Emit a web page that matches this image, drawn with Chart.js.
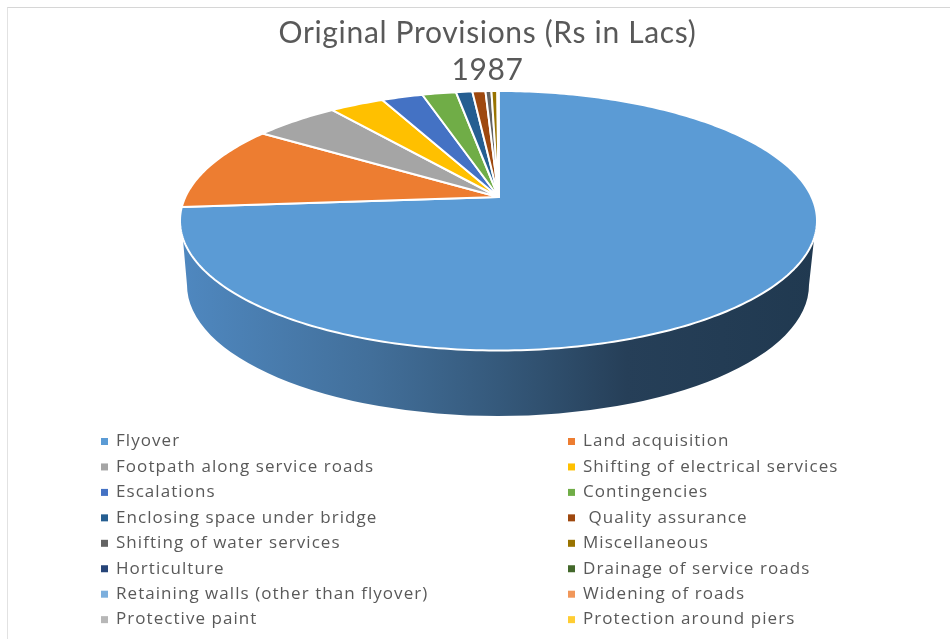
<!DOCTYPE html>
<html>
<head>
<meta charset="utf-8">
<title>Original Provisions</title>
<script src="https://cdn.jsdelivr.net/npm/chart.js@4"></script>
<style>
    html, body { margin: 0; padding: 0; background: #fff; }
    #wrap { position: relative; width: 950px; height: 639px; overflow: hidden; }
    #frame { position: absolute; left: 7px; top: 7px; width: 950px; height: 640px;
             border-left: 1px solid #e2e2e2; border-top: 1px solid #d6d6d6; }
    canvas { position: absolute; left: 0; top: 0; }
</style>
</head>
<body>
<div id="wrap">
    <div id="frame"></div>
    <canvas id="myPieChart" width="950" height="639"></canvas>
</div>
<script>
var titleLines = ['Original Provisions (Rs in Lacs)', '1987'];

var categories = [
    'Flyover', 'Land acquisition',
    'Footpath along service roads', 'Shifting of electrical services',
    'Escalations', 'Contingencies',
    'Enclosing space under bridge', ' Quality assurance',
    'Shifting of water services', 'Miscellaneous',
    'Horticulture', 'Drainage of service roads',
    'Retaining walls (other than flyover)', 'Widening of roads',
    'Protective paint', 'Protection around piers'
];

var provisions = [737.5, 106.7, 52, 32.8, 25, 20.5, 9.9, 7.9, 3.6, 3.6, 0.2, 0.15, 0.1, 0.1, 0.05, 0.05];

var sliceColors = [
    '#5b9bd5', '#ed7d31', '#a5a5a5', '#ffc000', '#4472c4', '#70ad47', '#255e91', '#9e480e',
    '#636363', '#997300', '#264478', '#43682b', '#7cafdd', '#f1975a', '#b7b7b7', '#ffcd33'
];

// tilted disc: perspective applied to the arc angles the controller works out
var disc = { shiftX: 11, stretchX: 2.954, stretchY: 1.183, tilt: 0.183 };
// lower rim of the disc, seen from above
var base = { cx: 498, cy: 285, rx: 311, ry: 131 };

function project(arc, angle) {
    var u = Math.cos(angle), v = Math.sin(angle);
    var w = 1 - disc.tilt * v;
    return {
        x: arc.x + disc.shiftX + arc.outerRadius * disc.stretchX * u / w,
        y: arc.y + arc.outerRadius * disc.stretchY * v / w
    };
}

function traceRim(ctx, arc, from, to) {
    var steps = Math.max(2, Math.ceil(Math.abs(to - from) * 60));
    for (var i = 0; i <= steps; i++) {
        var p = project(arc, from + (to - from) * i / steps);
        ctx.lineTo(p.x, p.y);
    }
}

function drawWall(ctx, arc) {
    var shade = ctx.createLinearGradient(180, 0, 818, 0);
    shade.addColorStop(0, '#4f88c0');
    shade.addColorStop(0.3, '#426f9a');
    shade.addColorStop(0.5, '#35597b');
    shade.addColorStop(0.7, '#263f58');
    shade.addColorStop(1, '#203950');

    ctx.beginPath();
    traceRim(ctx, arc, 18 * Math.PI / 180, 162 * Math.PI / 180);
    ctx.ellipse(base.cx, base.cy, base.rx, base.ry, 0, Math.PI, 0, true);
    ctx.closePath();
    ctx.fillStyle = shade;
    ctx.fill();
}

var tiltedPie = {
    id: 'tiltedPie',
    beforeDraw: function(chart) {
        // the title box draws right after this hook
        chart.ctx.letterSpacing = '0.66px';
    },
    beforeDatasetDraw: function(chart, args) {
        var ctx = chart.ctx;
        var arcs = args.meta.data;
        ctx.save();
        ctx.letterSpacing = '0px';
        drawWall(ctx, arcs[0]);
        ctx.lineJoin = 'round';
        arcs.forEach(function(arc) {
            ctx.beginPath();
            ctx.moveTo(arc.x + disc.shiftX, arc.y);
            traceRim(ctx, arc, arc.startAngle, arc.endAngle);
            ctx.closePath();
            ctx.fillStyle = arc.options.backgroundColor;
            ctx.fill();
            ctx.lineWidth = arc.options.borderWidth;
            ctx.strokeStyle = arc.options.borderColor;
            ctx.stroke();
        });
        ctx.restore();
        return false;
    }
};

// two column key under the disc
var twoColumnKey = {
    id: 'twoColumnKey',
    afterDraw: function(chart) {
        var ctx = chart.ctx;
        var columns = [116, 583];
        ctx.save();
        ctx.font = '17px "Open Sans"';
        ctx.letterSpacing = '1.05px';
        ctx.textBaseline = 'middle';
        categories.forEach(function(label, i) {
            var col = columns[i % 2];
            var y = 441.5 + Math.floor(i / 2) * 25.45;
            ctx.fillStyle = sliceColors[i];
            ctx.fillRect(col - 15, y - 3.5, 7, 7);
            ctx.fillStyle = '#595959';
            ctx.fillText(label, col, y);
        });
        ctx.restore();
    }
};

new Chart(document.getElementById('myPieChart'), {
    type: 'pie',
    data: {
        labels: categories,
        datasets: [{
            label: 'Original Provisions (Rs in Lacs)',
            data: provisions,
            backgroundColor: sliceColors,
            borderColor: '#ffffff',
            borderWidth: 2
        }]
    },
    options: {
        responsive: false,
        animation: false,
        layout: { padding: { left: 25, right: 0, top: 0, bottom: 335 } },
        plugins: {
            legend: { display: false },
            tooltip: { enabled: false },
            title: {
                display: true,
                text: titleLines,
                color: '#595959',
                font: { family: 'Lato', size: 30, weight: 'normal', lineHeight: 1.23 },
                padding: { top: 15, bottom: 1.2 }
            }
        }
    },
    plugins: [tiltedPie, twoColumnKey]
});
</script>
</body>
</html>
